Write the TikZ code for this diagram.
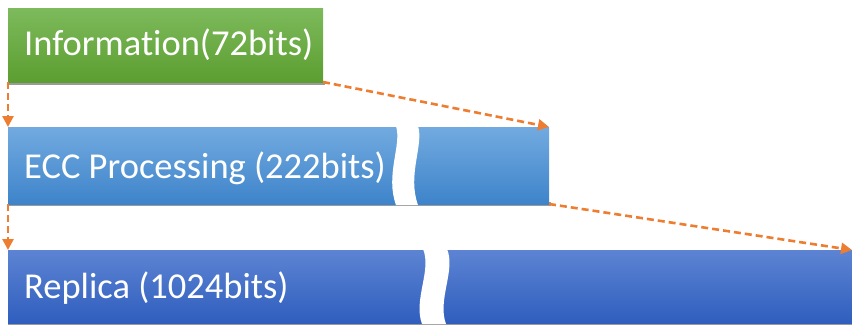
\documentclass[tikz,border=0pt]{standalone}
\usepackage{fontspec}
\setmainfont{Carlito}[Ligatures=NoCommon]
\usetikzlibrary{arrows.meta}
\definecolor{gtop}{HTML}{7DBA5C}
\definecolor{gbot}{HTML}{5C9E30}
\definecolor{btop}{HTML}{72AAE0}
\definecolor{bbot}{HTML}{3E84CA}
\definecolor{rtop}{HTML}{5D84D3}
\definecolor{rbot}{HTML}{2F5EBE}
\definecolor{arr}{HTML}{ED7D31}
\definecolor{shad}{HTML}{9A9A9A}
\tikzset{
  box/.style={rectangle, inner sep=0pt, outer sep=0pt, anchor=north west},
  lbl/.style={inner sep=0pt, anchor=base west, text=white, font=\fontsize{36.5bp}{40bp}\selectfont},
  flow/.style={draw=arr, line width=2.6bp, dash pattern=on 7bp off 4bp, -{Triangle[length=11bp,width=11bp]}},
  gap/.style={fill=white, draw=none}
}
\begin{document}
\begin{tikzpicture}[x=1bp,y=-1bp]
\useasboundingbox (0,0) rectangle (852,325);
% shadows
\fill[shad] (8,81) rectangle (325,85);
\fill[shad] (8,202) rectangle (551,206);
\fill[shad] (8,321) rectangle (852,325);
% boxes
\node[box, top color=gtop, bottom color=gbot, minimum width=315bp, minimum height=74bp] (info) at (8,8) {};
\node[box, top color=btop, bottom color=bbot, minimum width=541bp, minimum height=77bp] (ecc) at (8,127) {};
\node[box, top color=rtop, bottom color=rbot, minimum width=844bp, minimum height=73bp] (rep) at (8,250) {};
% wavy gaps
\path[gap] (396,126) .. controls (402,145) and (385,175) .. (396,205)
  -- (418,205) .. controls (407,175) and (424,145) .. (418,126) -- cycle;
\path[gap] (423,249) .. controls (432,270) and (413,300) .. (422,324)
  -- (446,324) .. controls (437,300) and (456,270) .. (447,249) -- cycle;
% labels
\node[lbl] (tinfo) at (24,55) {Information(72bits)};
\node[lbl] (tecc) at (24,178) {ECC Processing (222bits)};
\node[lbl] (trep) at (24,298) {Replica (1024bits)};
% connectors
\draw[flow] (info.south west) -- (ecc.north west);
\draw[flow] (info.south east) -- (ecc.north east);
\draw[flow] (ecc.south west) -- (rep.north west);
\draw[flow] (ecc.south east) -- (rep.north east);
\end{tikzpicture}
\end{document}
